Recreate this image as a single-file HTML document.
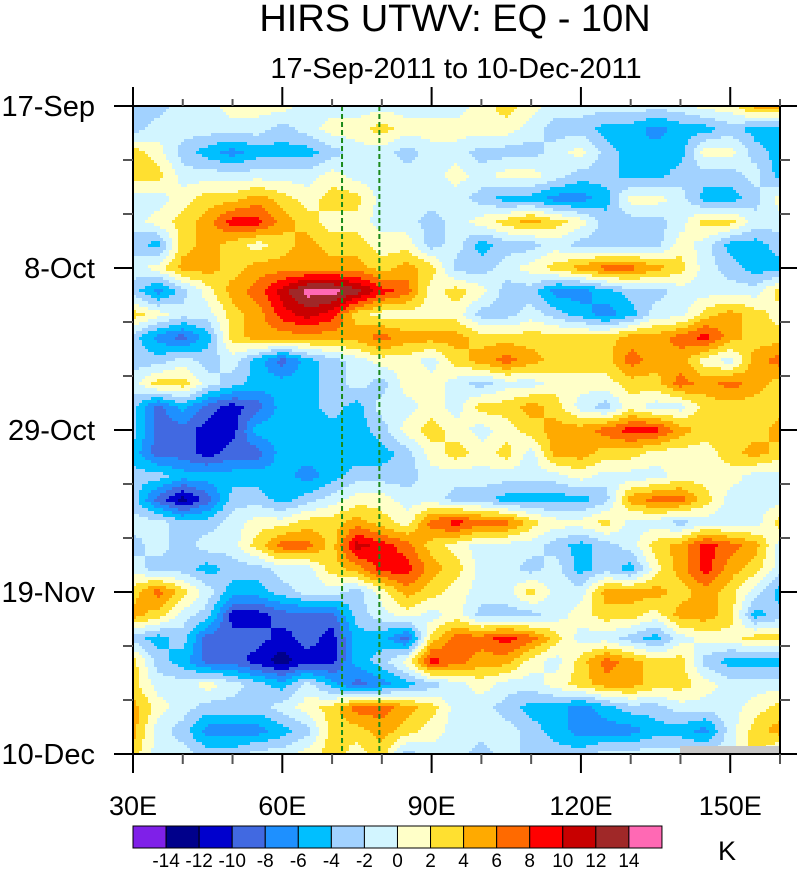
<!DOCTYPE html>
<html><head><meta charset="utf-8"><style>
html,body{margin:0;padding:0;background:#fff;}
svg{display:block;font-family:"Liberation Sans",sans-serif;}
</style></head><body>
<svg id="chart" width="799" height="869" viewBox="0 0 799 869" xmlns="http://www.w3.org/2000/svg">
<text x="455" y="31" font-size="38" text-anchor="middle">HIRS UTWV: EQ - 10N</text>
<text x="456" y="78" font-size="29" text-anchor="middle">17-Sep-2011 to 10-Dec-2011</text>
<g id="field"></g>
<g id="overlay"></g>
<g id="axes"></g>
<g id="cbar"></g>
<text x="727" y="860" font-size="27" text-anchor="middle">K</text>
</svg>
<script>
// ---- data ----
const lons = [30,35,40,45,50,55,60,65,70,75,80,85,90,95,100,105,110,115,120,125,130,135,140,145,150,155,160];
const days = [0,3,6,9,12,15,18,21,24,27,30,33,36,39,42,45,48,51,54,57,60,63,66,69,72,75,78,81,84];
const levels = [-14,-12,-10,-8,-6,-4,-2,0,2,4,6,8,10,12,14];
const levelColors = ["#7f20e8","#00008b","#0000cd","#4169e1","#1e90ff","#00bfff","#a2d2ff","#d2f5ff","#ffffc8","#ffe030","#ffaa00","#ff6a00","#ff0000","#c80000","#a02828","#ff69b4"];
const dateTicks = ["17-Sep","8-Oct","29-Oct","19-Nov","10-Dec"];
const dateTickDays = [0,21,42,63,84];
const lonTicks = ["30E","60E","90E","120E","150E"];
const lonTickVals = [30,60,90,120,150];
const refLons = [72,79.5];
const row00=[-3,-3,-1,-1,1,1,1,-1,-1,-1,-1,-1,-1,-1,1,3,1,-1,-1,-1,-1,-1,-1,1,1,5,5];
const row01=[-3,-1,-1,-1,-1,-1,-3,-1,1,1,3,1,1,1,1,1,-1,-3,-3,-5,-5,-7,-5,-5,-3,-5,-5];
const row02=[3,1,-3,-5,-7,-5,-5,-5,-3,-1,-1,-3,-1,-1,-3,-3,-3,-1,1,-3,-5,-5,-5,1,1,-3,-5];
const row03=[3,3,-1,-1,-1,-1,-1,-1,1,-1,-1,-1,-1,1,-1,1,1,-1,-3,-3,-5,-5,-3,-3,-3,-1,-5];
const row04=[-1,-1,1,3,3,5,3,1,3,3,-1,-1,-1,-1,-3,-5,-5,-7,-7,-5,1,1,-1,-5,-5,-3,1];
const row05=[-1,1,3,5,9,9,5,3,1,1,-1,-1,-3,-1,1,3,5,3,1,-3,-3,-3,-1,3,3,-1,-1];
const row06=[-3,-5,3,5,3,1,3,5,3,3,1,1,-3,-1,-5,-3,-3,-1,-3,-3,-3,-3,1,-1,-5,-5,-3];
const row07=[-1,1,5,5,3,5,5,5,5,5,3,5,3,-3,-3,-1,1,3,5,7,7,5,3,-1,-3,-5,-5];
const row08=[-3,-7,-3,1,5,7,11,15,15,13,9,7,1,3,1,-3,-3,-7,-7,-5,-3,-3,-1,-1,-1,-1,3];
const row09=[3,1,-1,-1,3,5,9,11,9,3,1,1,1,1,-3,-3,-1,-3,-5,-7,-5,-1,-1,3,5,3,1];
const row10=[-3,-7,-9,-5,3,5,5,5,5,5,7,5,5,5,3,3,3,3,3,3,5,5,7,9,5,3,3];
const row11=[-3,-3,-1,-3,-1,-5,-9,-5,-3,-1,1,1,-1,3,5,7,5,3,3,3,7,5,5,1,-1,5,7];
const row12=[-1,3,3,-1,-3,-5,-5,-5,-3,-1,-3,1,1,-1,-3,-1,-1,1,1,1,3,3,7,5,7,5,3];
const row13=[-3,-9,-5,-9,-11,-9,-5,-5,-3,-5,-1,-1,1,-1,3,3,5,3,-1,-3,1,-1,-1,3,3,3,3];
const row14=[-3,-9,-9,-11,-11,-5,-5,-5,-5,-5,-3,1,3,1,-1,1,3,5,5,7,9,9,5,3,3,3,5];
const row15=[-5,-9,-9,-11,-9,-9,-5,-5,-5,-5,-5,-3,1,3,1,3,-1,5,5,3,3,1,1,1,3,5,3];
const row16=[-3,-3,-5,-5,-5,-5,-5,-7,-5,-3,-3,-3,-1,-1,-1,-1,-1,-1,1,-1,-1,-1,1,1,1,-1,-1];
const row17=[-3,-9,-13,-9,-3,-3,-5,-3,-1,1,1,-1,-1,-3,-3,-5,-5,-5,-5,-3,5,7,7,3,-1,-1,-1];
const row18=[-1,-1,-3,-3,-1,1,1,3,3,5,3,1,7,9,7,7,3,1,1,3,-1,-1,-3,-1,-1,-1,3];
const row19=[-3,-1,-3,-1,-1,3,7,7,3,11,9,7,3,1,-1,-1,-1,-3,-5,-3,-1,3,5,9,7,5,-1];
const row20=[-1,-3,-3,-5,-3,-3,-1,-1,3,5,9,9,5,3,-1,-1,-3,-1,-5,-3,-5,1,5,9,5,3,-1];
const row21=[3,7,3,-1,-5,-5,-3,-1,-1,-3,1,5,3,1,-1,-1,3,-1,-1,5,5,5,3,5,3,-1,-5];
const row22=[5,3,-1,-3,-11,-11,-9,-9,-9,-3,-1,1,-1,1,-3,-3,-3,-1,1,3,3,1,5,5,3,-5,-3];
const row23=[-3,-5,-3,-9,-9,-9,-11,-9,-11,-5,-5,-9,3,7,7,9,7,3,-1,-1,-3,-5,-1,1,1,3,3];
const row24=[3,-3,-5,-9,-9,-11,-13,-11,-11,-5,-3,1,9,7,5,5,1,-1,3,7,5,3,3,-3,-5,-5,-5];
const row25=[3,-1,-1,1,-1,-3,-5,-1,-5,-9,-7,-5,-3,-1,1,-1,-1,1,3,5,5,3,3,1,-1,-1,-1];
const row26=[5,1,-1,-3,-3,-3,-1,1,3,7,7,5,3,-1,-1,-3,-5,-5,-7,-5,-3,-3,-1,-1,-1,1,3];
const row27=[5,-1,-3,-7,-7,-7,-5,-3,3,3,5,3,1,-1,-1,-1,-3,-5,-7,-7,-7,-5,-5,-7,-1,3,5];
const row28=[3,-1,-1,-3,-3,-1,-1,1,3,1,3,-3,-1,-1,-3,-1,-3,-3,-3,-1,-1,-1,-1,-1,-1,3,-1];
const anomaly=[row00,row01,row02,row03,row04,row05,row06,row07,row08,row09,row10,row11,row12,row13,row14,row15,row16,row17,row18,row19,row20,row21,row22,row23,row24,row25,row26,row27,row28];

// ---- layout ----
const NS="http://www.w3.org/2000/svg";
const X0=133,X1=780,Y0=106,Y1=754;
const lonMin=30,lonMax=160,dayMax=84;
const xScale=l=>X0+(l-lonMin)/(lonMax-lonMin)*(X1-X0);
const yScale=d=>Y0+d/dayMax*(Y1-Y0);
function mk(tag,attrs,parent){const e=document.createElementNS(NS,tag);for(const k in attrs)e.setAttribute(k,attrs[k]);parent.appendChild(e);return e;}
function colorFor(v){let i=0;while(i<levels.length&&v>=levels[i])i++;return levelColors[i];}
function sample(lon,day){
  let fi=(lon-lons[0])/(lons[1]-lons[0]);let fj=(day-days[0])/(days[1]-days[0]);
  fi=Math.max(0,Math.min(lons.length-1.0001,fi));fj=Math.max(0,Math.min(days.length-1.0001,fj));
  const i=Math.floor(fi),j=Math.floor(fj),a=fi-i,b=fj-j;
  const v00=anomaly[j][i],v10=anomaly[j][i+1],v01=anomaly[j+1][i],v11=anomaly[j+1][i+1];
  return v00*(1-a)*(1-b)+v10*a*(1-b)+v01*(1-a)*b+v11*a*b;
}
// field
const field=document.getElementById('field');
const cw=3,ch=3;
for(let py=Y0;py<Y1;py+=ch){
  const day=Math.min(dayMax,(py+ch/2-Y0)/(Y1-Y0)*dayMax);
  let runStart=X0,runCol=null;
  for(let px=X0;;px+=cw){
    const end=px>=X1;
    let col=null;
    if(!end){const lon=Math.min(lonMax,lonMin+(px+cw/2-X0)/(X1-X0)*(lonMax-lonMin));col=colorFor(sample(lon,day));}
    if(col!==runCol||end){
      if(runCol!==null){
        const r=mk('rect',{x:runStart,y:py,width:Math.min(px,X1)-runStart+0.3,height:Math.min(ch,Y1-py)+0.5,fill:runCol},field);
        
        
      }
      runStart=px;runCol=col;
    }
    if(end)break;
  }
}
const ov=document.getElementById('overlay');
const gp=mk('rect',{x:680,y:746,width:99,height:8,fill:"#c8c8c8"},ov);


refLons.forEach(l=>{
  const ln=mk('line',{x1:xScale(l),x2:xScale(l),y1:Y0,y2:Y1,stroke:"#1a8a1a","stroke-width":2,"stroke-dasharray":"5,3"},ov);
  
  
});
// axes
const ax=document.getElementById('axes');
const fr=mk('rect',{x:X0,y:Y0,width:X1-X0,height:Y1-Y0,fill:"none",stroke:"#000","stroke-width":2},ax);


for(let d=0;d<=dayMax;d+=7){
  const y=yScale(d);const major=dateTickDays.includes(d);
  const c=major?"#000":"#555";
  mk('line',{x1:major?X0-19:X0-10,x2:X0,y1:y,y2:y,stroke:c,"stroke-width":2},ax);
  mk('line',{x1:X1,x2:major?X1+17:X1+10,y1:y,y2:y,stroke:c,"stroke-width":2},ax);
}
dateTicks.forEach((t,i)=>{
  const tx=mk('text',{x:95,y:yScale(dateTickDays[i])+10,"font-size":29,"text-anchor":"end"},ax);
  tx.textContent=t;
  
  
});
for(let l=30;l<=160;l+=10){
  const x=xScale(l);const major=lonTickVals.includes(l);
  const c=major?"#000":"#555";
  mk('line',{x1:x,x2:x,y1:Y1,y2:Y1+(major?19:10),stroke:c,"stroke-width":2},ax);
  mk('line',{x1:x,x2:x,y1:Y0-(major?19:7),y2:Y0,stroke:c,"stroke-width":2},ax);
}
lonTicks.forEach((t,i)=>{
  const tx=mk('text',{x:xScale(lonTickVals[i]),y:815,"font-size":27,"text-anchor":"middle"},ax);
  tx.textContent=t;
  
  
});
// colorbar
const cb=document.getElementById('cbar');
const bx=133,bw=33.06,by=826,bh=22;
levelColors.forEach((c,i)=>{
  const r=mk('rect',{x:bx+i*bw,y:by,width:bw,height:bh,fill:c,stroke:"#000","stroke-width":1},cb);
  
  
});
levels.forEach((lv,i)=>{
  const t=mk('text',{x:bx+(i+1)*bw,y:867,"font-size":19,"text-anchor":"middle"},cb);
  t.textContent=String(lv);
  
  
});
</script>
</body></html>
